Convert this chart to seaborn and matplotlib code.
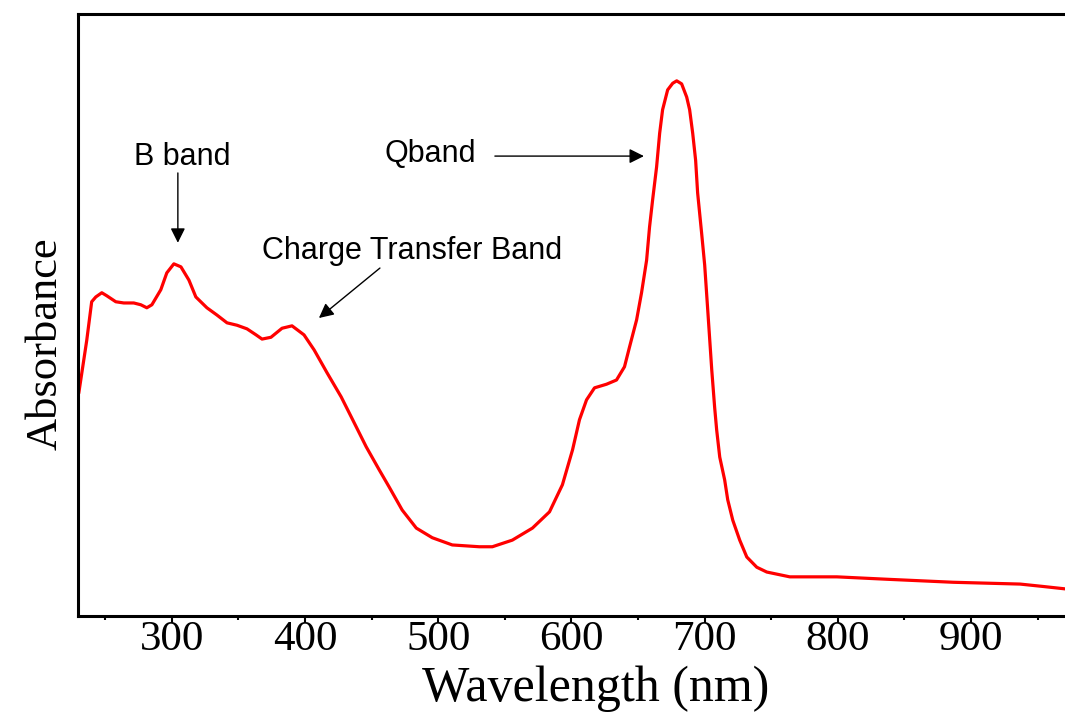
import matplotlib
matplotlib.use("Agg")
import matplotlib.pyplot as plt
import seaborn as sns
import pandas as pd
from matplotlib.ticker import MultipleLocator

# ---- data (absorbance in arbitrary units) ----
wavelength = [230.1, 236.1, 239.8, 242.9, 247.4, 251.1, 257.9, 263.9, 271.4, 276.7,
              281.2, 285.0, 291.7, 296.2, 301.5, 306.8, 312.8, 318.0, 326.3, 333.8,
              341.4, 348.9, 356.4, 363.2, 367.7, 374.4, 382.7, 390.2, 399.2, 406.8,
              416.5, 427.1, 434.6, 445.9, 455.6, 463.2, 472.9, 483.5, 495.5, 510.5,
              530.8, 540.6, 555.6, 570.7, 583.5, 593.2, 600.8, 606.0, 611.3, 617.3,
              626.3, 633.8, 639.8, 643.6, 648.9, 652.6, 656.4, 658.6, 660.9, 663.9,
              666.2, 668.4, 672.2, 676.0, 679.0, 682.7, 686.5, 688.7, 691.0, 693.2,
              694.7, 697.7, 700.0, 702.3, 705.3, 707.5, 709.0, 711.3, 715.0, 717.3,
              721.1, 726.3, 731.6, 739.1, 746.6, 763.9, 773.7, 799.2, 836.8, 886.5,
              936.8, 954.1, 970.7]
absorbance = [0.370, 0.458, 0.522, 0.530, 0.537, 0.532, 0.522, 0.520, 0.520, 0.517,
              0.512, 0.517, 0.542, 0.570, 0.585, 0.580, 0.558, 0.530, 0.512, 0.500,
              0.487, 0.483, 0.477, 0.467, 0.460, 0.463, 0.478, 0.482, 0.467, 0.442,
              0.404, 0.364, 0.331, 0.281, 0.243, 0.214, 0.176, 0.146, 0.130, 0.118,
              0.115, 0.115, 0.126, 0.146, 0.173, 0.218, 0.276, 0.326, 0.359, 0.379,
              0.385, 0.392, 0.414, 0.447, 0.492, 0.537, 0.591, 0.646, 0.691, 0.746,
              0.802, 0.841, 0.874, 0.885, 0.889, 0.884, 0.862, 0.841, 0.802, 0.757,
              0.703, 0.636, 0.583, 0.508, 0.409, 0.346, 0.309, 0.264, 0.226, 0.193,
              0.159, 0.126, 0.098, 0.081, 0.073, 0.065, 0.065, 0.065, 0.061, 0.056,
              0.053, 0.049, 0.045]
major_ticks = [300, 400, 500, 600, 700, 800, 900]
tick_labels = ["300", "400", "500", "600", "700", "800", "900"]
annotations = ["B band", "Qband", "Charge Transfer Band"]

df = pd.DataFrame({"Wavelength": wavelength, "Absorbance": absorbance})

sns.set_theme(style="white")
plt.rcParams["font.family"] = ["Liberation Serif", "DejaVu Serif"]

fig = plt.figure(figsize=(10.65, 7.16), dpi=100)
ax = fig.add_axes([0.0732, 0.1397, 0.9268, 0.8407])

sns.lineplot(data=df, x="Wavelength", y="Absorbance", ax=ax,
             color="#ff0000", linewidth=2.3)

ax.set_xlim(229.5, 970.5)
ax.set_ylim(0, 1.0)

ax.set_xticks(major_ticks)
ax.set_xticklabels(tick_labels, fontsize=31, family=["Liberation Serif"])
ax.xaxis.set_minor_locator(MultipleLocator(50))
ax.tick_params(axis="x", which="major", direction="out", length=5, width=1.5,
               colors="black", pad=-2, bottom=True)
ax.tick_params(axis="x", which="minor", direction="out", length=3, width=1.5,
               colors="black", bottom=True)
ax.set_yticks([])

for side in ["left", "bottom", "top"]:
    ax.spines[side].set_visible(True)
    ax.spines[side].set_color("black")
    ax.spines[side].set_linewidth(2.2)
ax.spines["right"].set_visible(False)

ax.set_xlabel("Wavelength (nm)", fontsize=36, family=["Liberation Serif"],
              color="black")
ax.xaxis.set_label_coords(0.525, -0.082)
ax.set_ylabel("Absorbance", fontsize=32, family=["Liberation Serif"],
              color="black")
ax.yaxis.set_label_coords(-0.013, 0.452)

afont = dict(fontsize=22, family=["Liberation Sans"], color="black",
             ha="center", va="center")
arrow = dict(arrowstyle="-|>", color="black", lw=1.0, mutation_scale=22,
             shrinkA=0, shrinkB=0)

ax.text(308, 0.762, annotations[0], **afont)
ax.annotate("", xy=(304.5, 0.620), xytext=(304.5, 0.736), arrowprops=arrow)

ax.text(493.7, 0.767, annotations[1], **afont)
ax.annotate("", xy=(654.4, 0.764), xytext=(542.5, 0.764), arrowprops=arrow)

ax.text(480.2, 0.606, annotations[2], **afont)
ax.annotate("", xy=(410.4, 0.495), xytext=(456.2, 0.578), arrowprops=arrow)

fig.savefig("out.png", dpi=100, facecolor="white")
